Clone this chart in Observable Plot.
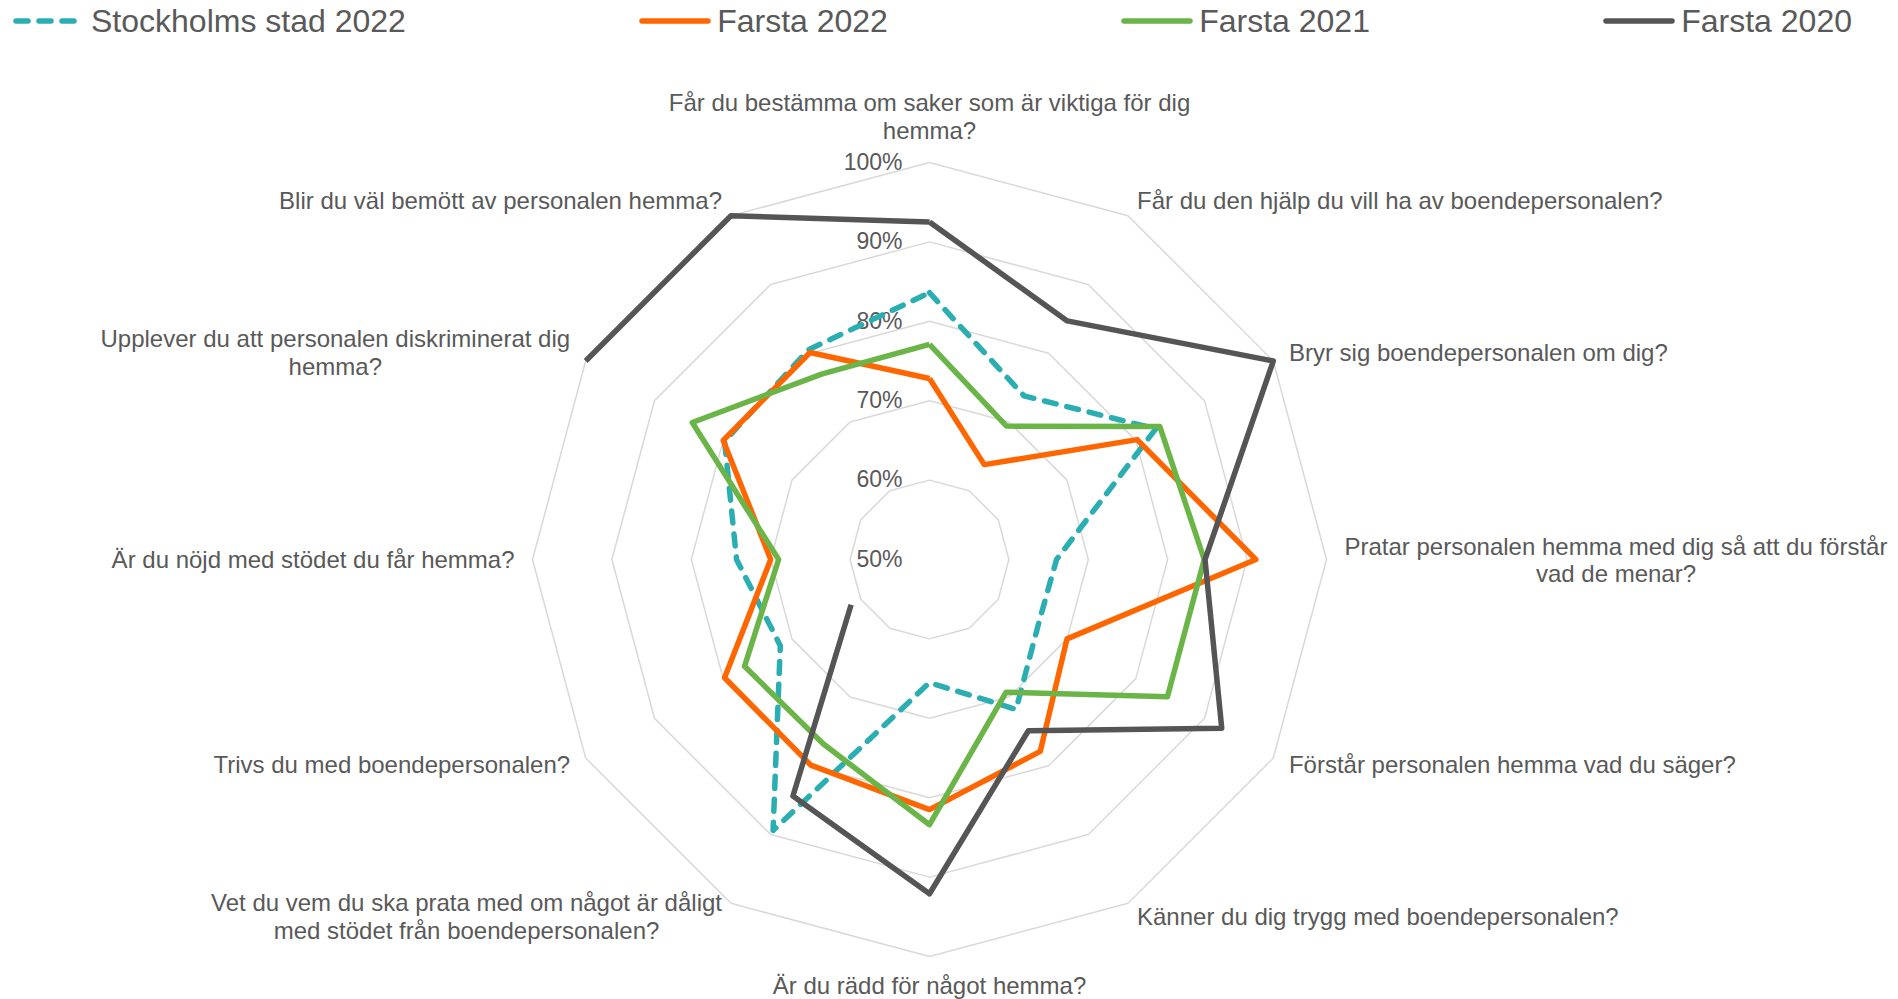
<!DOCTYPE html>
<html>
<head>
<meta charset="utf-8">
<script src="https://cdn.jsdelivr.net/npm/d3@7"></script>
<script src="https://cdn.jsdelivr.net/npm/@observablehq/plot@0.6"></script>
<style>
  html, body { margin: 0; padding: 0; background: #ffffff; }
  body { width: 1898px; height: 999px; overflow: hidden; font-family: "Liberation Sans", Arial, sans-serif; }
  #legend { height: 42px; display: flex; justify-content: space-between; align-items: center;
            padding: 0 46px 0 13px; box-sizing: border-box; }
  .item { display: flex; align-items: center; font-size: 32px; color: #595959; white-space: nowrap; }
  .item svg { margin-right: 6px; display: block; }
  #chart svg { display: block; }
</style>
</head>
<body>
<div id="legend"></div>
<div id="chart"></div>
<script>
// ---------- data ----------
const questions = [
  "Får du bestämma om saker som är viktiga för dig\nhemma?",
  "Får du den hjälp du vill ha av boendepersonalen?",
  "Bryr sig boendepersonalen om dig?",
  "Pratar personalen hemma med dig så att du förstår\nvad de menar?",
  "Förstår personalen hemma vad du säger?",
  "Känner du dig trygg med boendepersonalen?",
  "Är du rädd för något hemma?",
  "Vet du vem du ska prata med om något är dåligt\nmed stödet från boendepersonalen?",
  "Trivs du med boendepersonalen?",
  "Är du nöjd med stödet du får hemma?",
  "Upplever du att personalen diskriminerat dig\nhemma?",
  "Blir du väl bemött av personalen hemma?"
];
const seriesNames = ["Stockholms stad 2022", "Farsta 2022", "Farsta 2021", "Farsta 2020"];
const stockholm2022 = [83.6, 73.8, 82.9, 66.0, 65.9, 71.8, 65.5, 89.4, 71.7, 74.3, 79.8, 80.5];
const farsta2022    = [72.8, 63.8, 80.2, 91.1, 70.0, 77.9, 81.5, 79.9, 79.8, 70.0, 80.0, 80.1];
const farsta2021    = [77.1, 69.4, 83.5, 84.6, 84.6, 69.3, 83.4, 76.8, 76.9, 69.0, 84.5, 77.0];
const farsta2020    = [92.5, 84.7, 100, 84.7, 92.5, 74.9, 92.1, 84.4, 61.4, null, 100, 100];
const ringLevels = [60, 70, 80, 90, 100];
const tickLevels = [50, 60, 70, 80, 90, 100];
const tickLabels = ["50%", "60%", "70%", "80%", "90%", "100%"];

// ---------- styles ----------
const seriesValues = [stockholm2022, farsta2022, farsta2021, farsta2020];
const seriesColors = ["#2BAEB2", "#FF6600", "#6AB448", "#555555"];
const seriesDash   = ["12,11", null, null, null];
const textColor = "#595959";
const gridColor = "#D9D9D9";
const lineW = 5.5;

// ---------- layout ----------
const W = 1898, H = 957;
const cx = 929, cy = 517;    // centre of the radar in SVG pixels
const pxPerUnit = 397;       // radius of the 100% ring
const rMin = 50, rMax = 100;
const N = questions.length;
const unit = v => (v - rMin) / (rMax - rMin);
const ang = i => 2 * Math.PI * i / N;

// ---------- legend ----------
const legend = document.getElementById("legend");
seriesNames.forEach((name, si) => {
  const item = document.createElement("div");
  item.className = "item";
  const ns = "http://www.w3.org/2000/svg";
  const s = document.createElementNS(ns, "svg");
  s.setAttribute("width", 72); s.setAttribute("height", 12);
  const ln = document.createElementNS(ns, "line");
  ln.setAttribute("x1", 3); ln.setAttribute("x2", 69);
  ln.setAttribute("y1", 6); ln.setAttribute("y2", 6);
  ln.setAttribute("stroke", seriesColors[si]);
  ln.setAttribute("stroke-width", lineW);
  ln.setAttribute("stroke-linecap", "round");
  if (seriesDash[si]) ln.setAttribute("stroke-dasharray", seriesDash[si]);
  s.appendChild(ln);
  item.appendChild(s);
  const t = document.createElement("span");
  t.textContent = name;
  item.appendChild(t);
  legend.appendChild(item);
});

// ---------- derived tables ----------
const rings = [];
ringLevels.forEach(lv => {
  for (let k = 0; k <= N; k++) {
    const a = ang(k % N), r = unit(lv);
    rings.push({level: lv, x: r * Math.sin(a), y: r * Math.cos(a)});
  }
});

const seriesRows = seriesValues.map((vals, si) => {
  const rows = [];
  for (let k = 0; k <= N; k++) {
    const i = k % N, v = vals[i], a = ang(i);
    const ok = v != null;
    rows.push({series: seriesNames[si], i, v,
               x: ok ? unit(v) * Math.sin(a) : NaN,
               y: ok ? unit(v) * Math.cos(a) : NaN});
  }
  return rows;
});

const ticks = tickLevels.map((lv, j) => ({x: 0, y: unit(lv), text: tickLabels[j]}));

const ctx = document.createElement("canvas").getContext("2d");
ctx.font = '24px "Liberation Sans"';
const labelR = 1 + 18 / pxPerUnit;
const lowerLift = 3 / pxPerUnit;
const labels = questions.map((q, i) => {
  const a = ang(i), s = Math.sin(a), c = Math.cos(a);
  const w = Math.max(...q.split("\n").map(l => ctx.measureText(l).width));
  const side = Math.abs(s) < 1e-6 ? 0 : Math.sign(s);
  const va = side === 0 ? (c > 0 ? "bottom" : "top") : "middle";
  const lift = (side !== 0 && c < -0.1) ? lowerLift : 0;
  return {text: q, x: labelR * s + side * (w / 2) / pxPerUnit, y: labelR * c + lift, va};
});

// ---------- plot ----------
const textOpts = {x: "x", y: "y", text: "text", fill: textColor, fontSize: 24,
                  textAnchor: "middle", lineHeight: 1.16, fontFamily: "Liberation Sans"};

const marks = [
  Plot.line(rings, {x: "x", y: "y", z: "level", stroke: gridColor, strokeWidth: 1.5}),
  Plot.text(ticks, {x: "x", y: "y", text: "text", textAnchor: "end", dx: -27, fill: textColor,
                    fontSize: 23, fontFamily: "Liberation Sans"}),
  Plot.text(labels.filter(d => d.va === "middle"), {...textOpts, lineAnchor: "middle"}),
  Plot.text(labels.filter(d => d.va === "bottom"), {...textOpts, lineAnchor: "bottom", dy: -6}),
  Plot.text(labels.filter(d => d.va === "top"), {...textOpts, lineAnchor: "top"}),
  ...seriesRows.map((rows, si) => Plot.line(rows, {
    x: "x", y: "y", stroke: seriesColors[si], strokeWidth: lineW,
    strokeLinejoin: "round", strokeLinecap: seriesDash[si] ? "round" : "butt",
    strokeDasharray: seriesDash[si] || undefined
  }))
];

const chart = Plot.plot({
  width: W, height: H,
  margin: 0,
  style: {background: "#ffffff", fontFamily: "Liberation Sans", overflow: "visible"},
  x: {domain: [-cx / pxPerUnit, (W - cx) / pxPerUnit], range: [0, W], axis: null},
  y: {domain: [-(H - cy) / pxPerUnit, cy / pxPerUnit], range: [H, 0], axis: null},
  marks
});
document.getElementById("chart").appendChild(chart);
</script>
</body>
</html>
